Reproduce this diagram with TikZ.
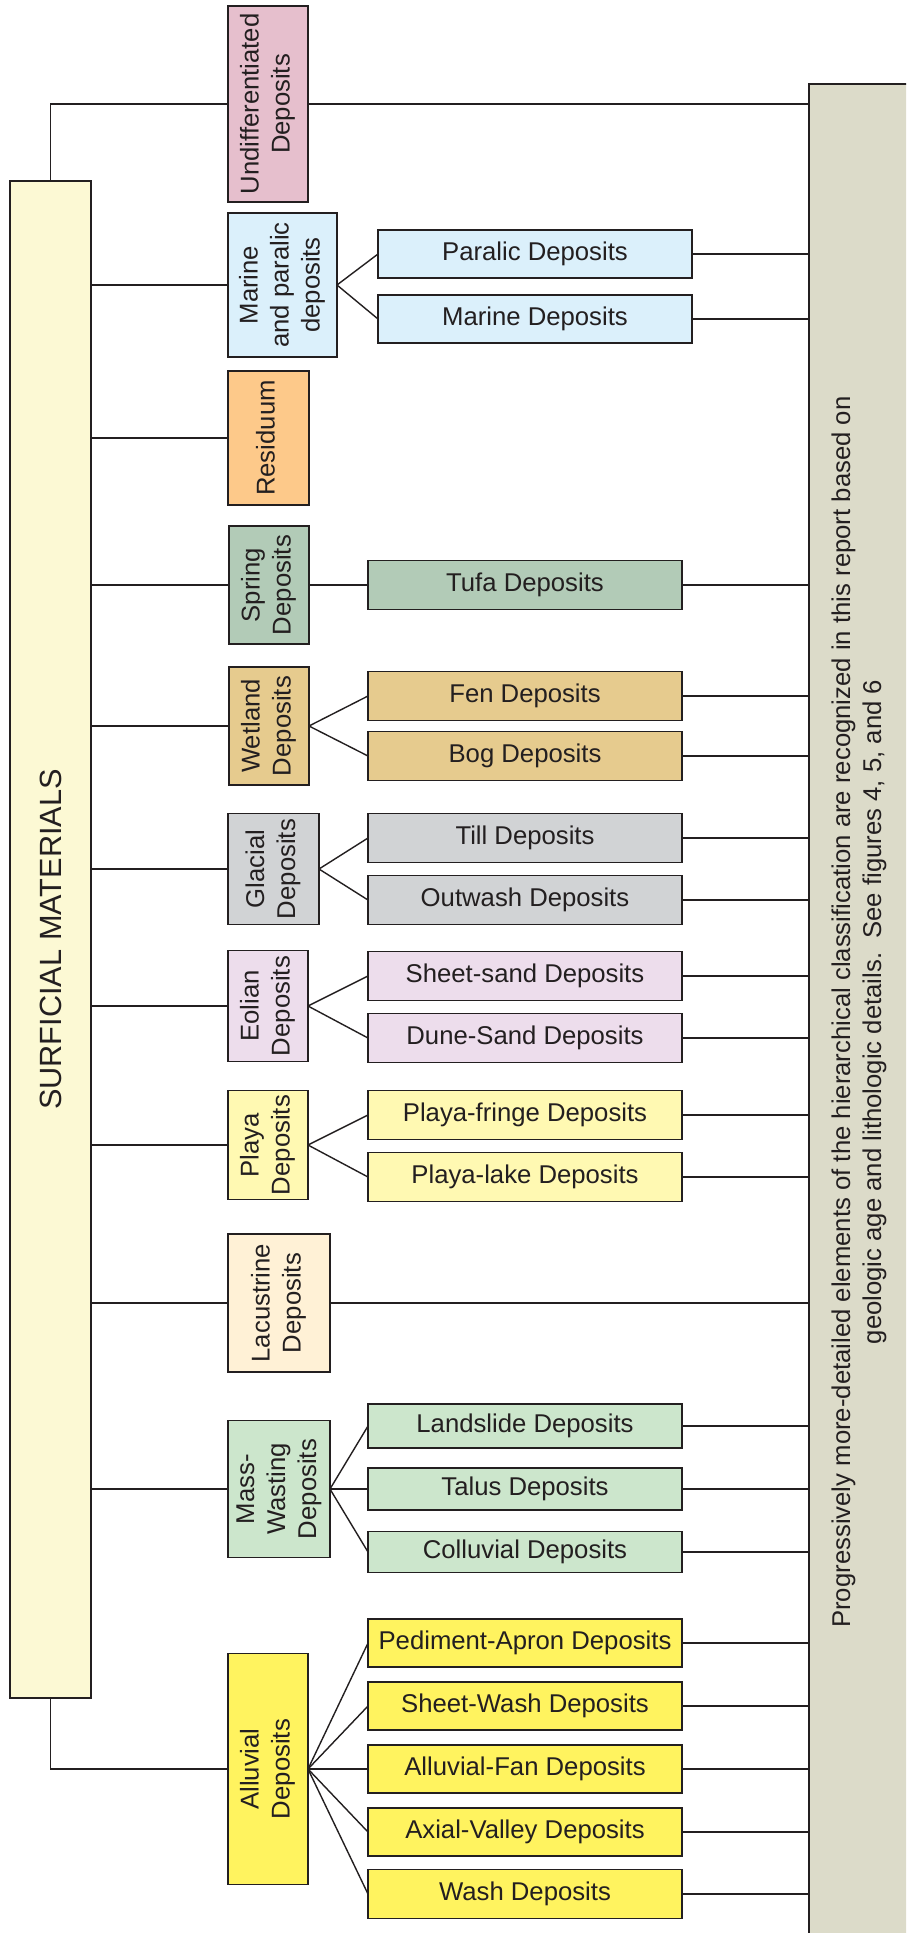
\documentclass[tikz,border=0pt]{standalone}
\usepackage{fontspec}
\setmainfont{Liberation Sans}
\definecolor{linec}{HTML}{231F20}
\definecolor{surfc}{HTML}{FCF9D4}
\definecolor{bigc}{HTML}{DCDBC9}
\definecolor{undiffc}{HTML}{E6BFCD}
\definecolor{marinec}{HTML}{DBF0FB}
\definecolor{residc}{HTML}{FDC98A}
\definecolor{springc}{HTML}{B2CBB7}
\definecolor{wetc}{HTML}{E6CB8E}
\definecolor{glacc}{HTML}{D1D3D5}
\definecolor{eolc}{HTML}{EDDDEC}
\definecolor{playac}{HTML}{FFF9B2}
\definecolor{lacc}{HTML}{FFF1D6}
\definecolor{massc}{HTML}{CCE6CC}
\definecolor{alluvc}{HTML}{FFF35F}
\newcommand{\rtx}[1]{\rotatebox{90}{\begin{tabular}{@{}c@{}}#1\end{tabular}}}
\newcommand{\fsz}{\fontsize{25.7}{31}\selectfont}
\begin{document}
\begin{tikzpicture}[x=1pt,y=-1pt,
  box/.style={draw=linec, line width=1.5pt, inner sep=0pt, outer sep=0pt, font=\fsz, text=linec},
  kid/.style={box, minimum width=314pt},
  conn/.style={draw=linec, line width=1.4pt}]
\useasboundingbox (0,0) rectangle (906,1933);
\clip (0,0) rectangle (906,1933);
\fill[white] (0,0) rectangle (906,1933);

% main boxes
\node[box, fill=surfc, minimum width=81pt, minimum height=1517pt] (surf) at (50.5,939.5) {\rotatebox{90}{\fontsize{30.7}{36}\selectfont SURFICIAL MATERIALS}};
\node[box, fill=bigc, minimum width=100pt, minimum height=1852pt, anchor=north west] (big) at (809,84) {};
\node[font=\fsz, text=linec, rotate=90, align=center] (bigtxt) at (859,1012) {Progressively more-detailed elements of the hierarchical classification are recognized in this report based on\\geologic age and lithologic details.\ \ See figures 4, 5, and 6};

% categories
\node[box, fill=undiffc, minimum width=80pt, minimum height=196pt] (undiff) at (268,104) {\rtx{Undifferentiated\\Deposits}};
\node[box, fill=marinec, minimum width=109pt, minimum height=144pt] (marine) at (282.5,285) {\rtx{Marine\\and paralic\\deposits}};
\node[box, fill=residc, minimum width=81pt, minimum height=134pt] (resid) at (268.5,438) {\rtx{Residuum}};
\node[box, fill=springc, minimum width=80pt, minimum height=118pt] (spring) at (269,585) {\rtx{Spring\\Deposits}};
\node[box, fill=wetc, minimum width=80pt, minimum height=118pt] (wet) at (269,726) {\rtx{Wetland\\Deposits}};
\node[box, fill=glacc, minimum width=91pt, minimum height=111pt] (glac) at (273.5,869) {\rtx{Glacial\\Deposits}};
\node[box, fill=eolc, minimum width=80pt, minimum height=111pt] (eol) at (268,1006) {\rtx{Eolian\\Deposits}};
\node[box, fill=playac, minimum width=80pt, minimum height=109pt] (playa) at (268,1145) {\rtx{Playa\\Deposits}};
\node[box, fill=lacc, minimum width=102pt, minimum height=138pt] (lac) at (279,1303) {\rtx{Lacustrine\\Deposits}};
\node[box, fill=massc, minimum width=102pt, minimum height=137pt] (mass) at (279,1489) {\rtx{Mass-\\Wasting\\Deposits}};
\node[box, fill=alluvc, minimum width=80pt, minimum height=231pt] (alluv) at (268,1769) {\rtx{Alluvial\\Deposits}};

% children
\node[kid, fill=marinec, minimum height=48pt] (paralic) at (535,254) {Paralic Deposits};
\node[kid, fill=marinec, minimum height=48pt] (marined) at (535,319) {Marine Deposits};
\node[kid, fill=springc, minimum height=49pt] (tufa) at (525,585) {Tufa Deposits};
\node[kid, fill=wetc, minimum height=49pt] (fen) at (525,696) {Fen Deposits};
\node[kid, fill=wetc, minimum height=49pt] (bog) at (525,756) {Bog Deposits};
\node[kid, fill=glacc, minimum height=49pt] (till) at (525,838) {Till Deposits};
\node[kid, fill=glacc, minimum height=49pt] (outwash) at (525,900) {Outwash Deposits};
\node[kid, fill=eolc, minimum height=49pt] (sheetsand) at (525,976) {Sheet-sand Deposits};
\node[kid, fill=eolc, minimum height=49pt] (dune) at (525,1038) {Dune-Sand Deposits};
\node[kid, fill=playac, minimum height=49pt] (fringe) at (525,1115) {Playa-fringe Deposits};
\node[kid, fill=playac, minimum height=49pt] (lake) at (525,1177) {Playa-lake Deposits};
\node[kid, fill=massc, minimum height=44pt] (land) at (525,1426) {Landslide Deposits};
\node[kid, fill=massc, minimum height=42pt] (talus) at (525,1489) {Talus Deposits};
\node[kid, fill=massc, minimum height=41pt] (coll) at (525,1552) {Colluvial Deposits};
\node[kid, fill=alluvc, minimum height=48pt] (ped) at (525,1643) {Pediment-Apron Deposits};
\node[kid, fill=alluvc, minimum height=48pt] (sheetwash) at (525,1706) {Sheet-Wash Deposits};
\node[kid, fill=alluvc, minimum height=48pt] (fan) at (525,1769) {Alluvial-Fan Deposits};
\node[kid, fill=alluvc, minimum height=48pt] (axial) at (525,1832) {Axial-Valley Deposits};
\node[kid, fill=alluvc, minimum height=49pt] (wash) at (525,1894) {Wash Deposits};

% connectors from SURFICIAL MATERIALS
\draw[conn] (surf.north) |- (undiff.west);
\draw[conn] (surf.south) |- (alluv.west);
\foreach \n in {marine,resid,spring,wet,glac,eol,playa,lac,mass}
  \draw[conn] (surf.east |- \n.west) -- (\n.west);

% category to children
\foreach \p/\c in {marine/paralic,marine/marined,spring/tufa,wet/fen,wet/bog,glac/till,glac/outwash,eol/sheetsand,eol/dune,playa/fringe,playa/lake,mass/land,mass/talus,mass/coll,alluv/ped,alluv/sheetwash,alluv/fan,alluv/axial,alluv/wash}
  \draw[conn] (\p.east) -- (\c.west);

% to the big box
\foreach \c in {undiff,paralic,marined,tufa,fen,bog,till,outwash,sheetsand,dune,fringe,lake,lac,land,talus,coll,ped,sheetwash,fan,axial,wash}
  \draw[conn] (\c.east) -- (\c.east -| big.west);
\end{tikzpicture}
\end{document}
